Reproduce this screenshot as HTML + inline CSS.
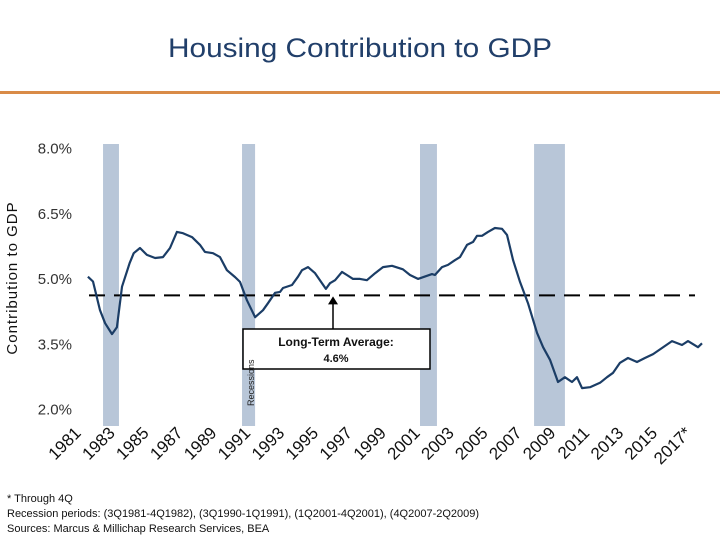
<!DOCTYPE html>
<html><head><meta charset="utf-8"><style>
body{margin:0;background:#fff;}
svg{display:block;font-family:"Liberation Sans",Arial,sans-serif;}
</style></head><body>
<svg id="chart" width="720" height="540" viewBox="0 0 720 540">
<text x="360" y="57" text-anchor="middle" font-size="27" fill="#213f6a" textLength="384" lengthAdjust="spacingAndGlyphs">Housing Contribution to GDP</text>
<rect x="0" y="91" width="720" height="3" fill="#d98b47"/>
<g id="rec"></g>
<g id="yt"></g>
<g id="xt"></g>
<text transform="translate(17,278) rotate(-90)" text-anchor="middle" font-size="15" letter-spacing="1" fill="#111">Contribution to GDP</text>
<line id="avg" x1="89" x2="695" stroke="#000" stroke-width="2" stroke-dasharray="16,9"/>
<path id="line" fill="none" stroke="#1b3d66" stroke-width="2.2" stroke-linejoin="round"/>
<line id="arrowLine" x1="333" x2="333" y2="329" stroke="#000" stroke-width="1.5"/>
<polygon id="arrowHead" fill="#000"/>
<rect x="243" y="329" width="187" height="40" fill="#fff" stroke="#000" stroke-width="1.5"/>
<text x="336" y="346" text-anchor="middle" font-size="12" font-weight="bold" fill="#111">Long-Term Average:</text>
<text x="336" y="362" text-anchor="middle" font-size="11" font-weight="bold" fill="#111">4.6%</text>
<text transform="translate(254,406) rotate(-90)" font-size="9" fill="#222">Recessions</text>
<text x="7" y="502" font-size="11" fill="#111">* Through 4Q</text>
<text x="7" y="517" font-size="11" fill="#111">Recession periods: (3Q1981-4Q1982), (3Q1990-1Q1991), (1Q2001-4Q2001), (4Q2007-2Q2009)</text>
<text x="7" y="532" font-size="11" fill="#111">Sources: Marcus &amp; Millichap Research Services, BEA</text>
</svg>
<script>
const years=[1981.41,1981.71,1982.12,1982.42,1982.83,1983.12,1983.42,1983.87,1984.11,1984.48,1984.89,1985.37,1985.84,1986.25,1986.66,1987.02,1987.55,1988.02,1988.31,1988.79,1989.2,1989.61,1990.09,1990.38,1990.79,1991.27,1991.74,1992.03,1992.45,1992.74,1992.92,1993.45,1993.8,1994.04,1994.39,1994.81,1995.22,1995.45,1995.69,1995.99,1996.4,1996.69,1997.05,1997.46,1997.87,1998.35,1998.82,1999.35,1999.99,2000.41,2000.88,2001.71,2001.88,2002.3,2002.65,2003.06,2003.36,2003.77,2004.13,2004.36,2004.66,2005.01,2005.42,2005.84,2006.13,2006.49,2006.9,2007.37,2007.9,2008.26,2008.67,2009.14,2009.55,2009.97,2010.26,2010.56,2011.03,2011.62,2012.03,2012.39,2012.8,2013.27,2013.8,2014.27,2014.75,2015.28,2015.87,2016.46,2016.81,2017.4,2017.64];
const values=[5.03,4.92,4.26,3.96,3.71,3.87,4.8,5.34,5.57,5.69,5.53,5.46,5.48,5.69,6.06,6.03,5.94,5.76,5.6,5.57,5.48,5.18,5.02,4.91,4.49,4.1,4.26,4.42,4.66,4.68,4.77,4.84,5.03,5.18,5.25,5.11,4.88,4.75,4.88,4.95,5.14,5.07,4.98,4.98,4.95,5.11,5.25,5.28,5.2,5.07,4.98,5.09,5.07,5.25,5.3,5.41,5.48,5.76,5.83,5.97,5.97,6.06,6.15,6.13,5.99,5.41,4.91,4.42,3.74,3.41,3.12,2.61,2.72,2.61,2.72,2.47,2.49,2.59,2.72,2.82,3.05,3.16,3.07,3.16,3.25,3.39,3.55,3.46,3.55,3.41,3.5];
const recStart=[1982.3,1990.5,2001.0,2007.73];
const recEnd=[1983.24,1991.27,2002.0,2009.55];
const yTicks=[2.0,3.5,5.0,6.5,8.0];
const xTickYears=[1981,1983,1985,1987,1989,1991,1993,1995,1997,1999,2001,2003,2005,2007,2009,2011,2013,2015,2017];
const xTickLabels=["1981","1983","1985","1987","1989","1991","1993","1995","1997","1999","2001","2003","2005","2007","2009","2011","2013","2015","2017*"];
const average=4.6;

const NS="http://www.w3.org/2000/svg";
function xs(y){return 420+(y-2001)*16.95;}
function ys(v){return 278-(v-5)*43.5;}
function mk(tag,attrs,parent,txt){const e=document.createElementNS(NS,tag);for(const k in attrs)e.setAttribute(k,attrs[k]);if(txt!==undefined)e.textContent=txt;parent.appendChild(e);return e;}

const rec=document.getElementById('rec');
recStart.forEach((s,i)=>{
  const r=mk('rect',{x:xs(s),y:144,width:xs(recEnd[i])-xs(s),height:282,fill:'#b8c6d8'},rec);
  
  
});
const yt=document.getElementById('yt');
yTicks.forEach(v=>{
  const t=mk('text',{x:72,y:ys(v)+6,'text-anchor':'end','font-size':'15',fill:'#333'},yt,v.toFixed(1)+'%');
  
  
});
const xt=document.getElementById('xt');
xTickYears.forEach((yr,i)=>{
  const x=xs(yr)+1;
  const t=mk('text',{transform:`translate(${x},434) rotate(-45)`,'text-anchor':'end','font-size':'17',fill:'#111'},xt,xTickLabels[i]);
  
  
});
const avg=document.getElementById('avg');
avg.setAttribute('y1',ys(average));avg.setAttribute('y2',ys(average));
const ay=ys(average);
document.getElementById('arrowLine').setAttribute('y1',ay+6);
document.getElementById('arrowHead').setAttribute('points',`333,${ay+1} 328,${ay+9} 338,${ay+9}`);
document.getElementById('line').setAttribute('d',years.map((y,i)=>(i?'L':'M')+xs(y).toFixed(1)+','+ys(values[i]).toFixed(1)).join(' '));
</script>
</body></html>
